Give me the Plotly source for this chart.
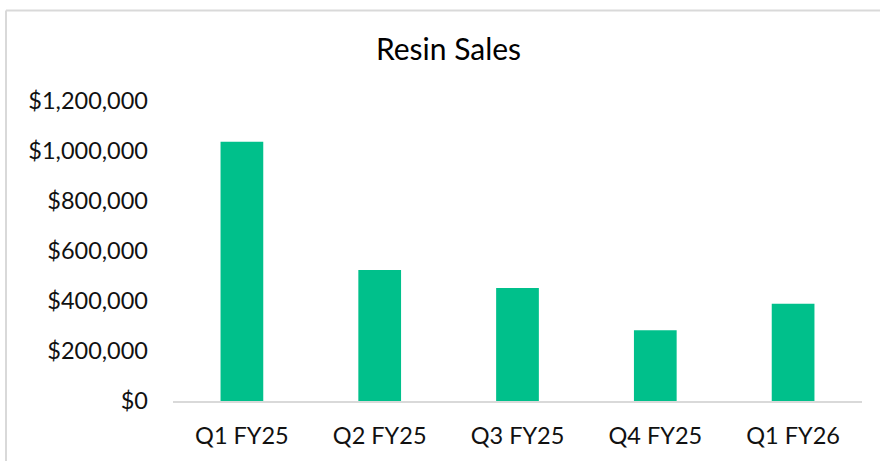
import plotly.graph_objects as go

categories = ["Q1 FY25", "Q2 FY25", "Q3 FY25", "Q4 FY25", "Q1 FY26"]
sales = [1037000, 524000, 452000, 283000, 389000]
tick_vals = [0, 200000, 400000, 600000, 800000, 1000000, 1200000]
tick_text = ["$0", "$200,000", "$400,000", "$600,000", "$800,000", "$1,000,000", "$1,200,000"]

W, H = 880, 461
L, R, T, B = 173, 18, 101, 58
pw, ph = W - L - R, H - T - B

def px_x(p):
    return (p - L) / pw

def px_y(p):
    return (H - B - p) / ph

FONT = "Lato"

fig = go.Figure(go.Bar(
    x=categories, y=sales, marker=dict(color="#00C08B", line=dict(width=0)),
    width=0.31,
))

fig.update_layout(
    width=W, height=H,
    margin=dict(l=L, r=R, t=T, b=B),
    paper_bgcolor="white", plot_bgcolor="white",
    font=dict(family=FONT, size=23.5, color="#111111"),
    title=dict(text="Resin Sales", x=448.5 / W, xref="container", xanchor="center",
               y=1 - 49 / H, yref="container", yanchor="middle",
               font=dict(family=FONT, size=30, color="#000000")),
    showlegend=False,
)
fig.update_xaxes(showgrid=False, showline=True, linecolor="#d9d9d9", linewidth=2,
                 ticks="", ticklabelstandoff=13, zeroline=False)
fig.update_yaxes(range=[0, 1200000], tickvals=tick_vals, ticktext=tick_text,
                 showgrid=False, showline=False, zeroline=False, ticks="",
                 ticklabelstandoff=24)

fig.add_shape(type="line", xref="paper", yref="paper",
              x0=px_x(6), x1=px_x(W + 5), y0=px_y(10), y1=px_y(10),
              line=dict(color="#d9d9d9", width=2), layer="below")
fig.add_shape(type="line", xref="paper", yref="paper",
              x0=px_x(6), x1=px_x(6), y0=px_y(10), y1=px_y(H + 5),
              line=dict(color="#d9d9d9", width=2), layer="below")

fig.write_html("out.html", config={"displayModeBar": False},
               post_script="document.body.style.margin='0px';document.body.style.overflow='hidden';")
